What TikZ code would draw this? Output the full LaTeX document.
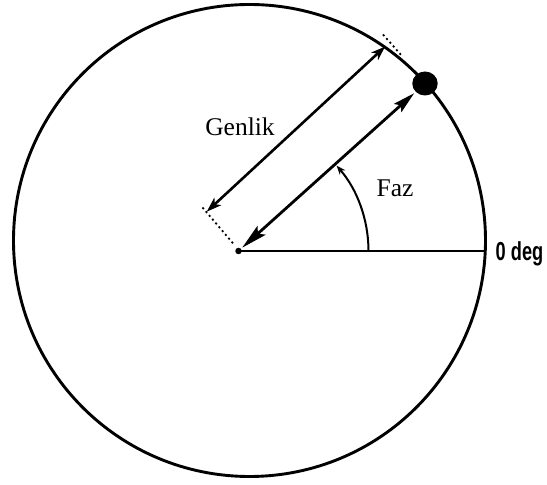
\documentclass[tikz,border=0pt]{standalone}
\usepackage{fontspec}
\setmainfont{Liberation Serif}
\newfontfamily\degfont{Liberation Sans}
\usetikzlibrary{arrows.meta}
\tikzset{
  rim/.style={line width=2.9pt},
  thin line/.style={line width=2pt},
  fazarrow/.style={line width=2.8pt,
    {Stealth[length=26pt,width=12pt,inset=5pt]}-{Stealth[length=22pt,width=11pt,inset=4pt]}},
  genarrow/.style={line width=2.6pt,
    {Stealth[length=15pt,width=10pt,inset=4pt]}-{Stealth[length=14pt,width=10pt,inset=4pt]}},
  extline/.style={line width=1.8pt,dash pattern=on 2pt off 3pt},
  lbl/.style={font=\fontsize{25.5}{30}\selectfont,inner sep=0pt,anchor=base},
}
\begin{document}
\begin{tikzpicture}[x=1pt,y=1pt]
\useasboundingbox (0,0) rectangle (547,485);
\fill[white] (0,0) rectangle (547,485);
% outer circle
\draw[rim] (249.5,244.5) circle[radius=236pt];
% centre and phasor point
\node[circle,fill=black,inner sep=0pt,minimum size=6.5pt] (O) at (238.5,234) {};
\node[circle,fill=black,inner sep=0pt,minimum size=24pt,xscale=1.06] (P) at (425,401.5) {};
\coordinate (H) at (485.3,234);
% zero-degree line
\draw[thin line] (O.center) -- (H);
% phase arc
\draw[thin line,-{Stealth[length=9pt,width=7pt]}] ([shift={(0:130pt)}]O.center) arc[start angle=0,end angle=41,radius=130pt];
% phasor arrow
\draw[fazarrow,shorten <=1.5pt,shorten >=2pt] (O) -- (P);
% amplitude dimension
\coordinate (A1) at (206.7,273.3);
\coordinate (A2) at (385,438.3);
\coordinate (D1) at (202.5,277.5);
\coordinate (D2) at (234,240.5);
\coordinate (E1) at (383,450.5);
\coordinate (E2) at (402,429);
\draw[extline] (D1) -- (D2);
\draw[extline] (E1) -- (E2);
\draw[genarrow] (A1) -- (A2);
% labels
\node[lbl] (gen) at (240,349) {Genlik};
\node[lbl] (faz) at (395,288.3) {Faz};
\node[inner sep=0pt,anchor=base] (deg) at (519.5,224)
  {\scalebox{0.7}[1]{\degfont\bfseries\fontsize{26}{30}\selectfont 0 deg}};
\end{tikzpicture}
\end{document}
